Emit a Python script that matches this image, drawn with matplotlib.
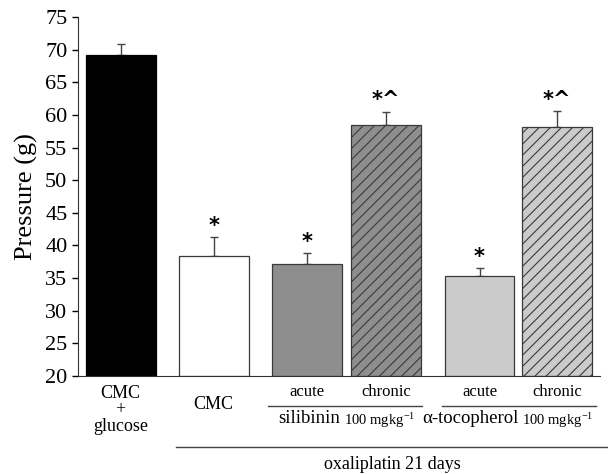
import numpy as np
import matplotlib.pyplot as plt
from matplotlib.transforms import blended_transform_factory

plt.rcParams['font.family'] = ['Liberation Serif', 'DejaVu Serif']
plt.rcParams['mathtext.fontset'] = 'stix'
plt.rcParams['hatch.linewidth'] = 0.8

# values
groups = ["CMC\n+\nglucose", "CMC", "acute", "chronic", "acute", "chronic"]
means = [69.2, 38.4, 37.2, 58.4, 35.3, 58.2]
upper_err = [1.6, 2.9, 1.6, 2.1, 1.2, 2.4]
marks = ["", "*", "*", "*^", "*", "*^"]
treatments = ["silibinin", "\u03b1-tocopherol"]
dose = r"100 mgkg$^{\mathregular{-1}}$"

# bar layout
pos = np.array([0, 1, 2.005, 2.85, 3.855, 4.69])
fills = ["#000000", "#ffffff", "#8e8e8e", "#8e8e8e", "#cbcbcb", "#cbcbcb"]
hatches = [None, None, None, "///", None, "///"]

fig = plt.figure(figsize=(6.08, 4.74), dpi=100)
ax = fig.add_axes([0.128, 0.207, 0.859, 0.757])

for i in range(len(means)):
    ax.bar(pos[i], means[i] - 20, bottom=20, width=0.75, color=fills[i],
           edgecolor="#3a3a3a" if i else "black", linewidth=0.9,
           hatch=hatches[i], zorder=2)
ax.errorbar(pos, means, yerr=[np.zeros(len(means)), upper_err], fmt="none",
            ecolor="#444444", elinewidth=1, capsize=3, capthick=1, zorder=1)
for i in range(len(means)):
    if marks[i]:
        ax.text(pos[i], means[i] + upper_err[i] + 0.2, marks[i], ha="center", va="bottom",
                fontsize=15, fontweight="bold", family="DejaVu Sans")

ax.set_ylim(20, 75)
ax.set_xlim(-0.46, 5.15)
ax.set_yticks(np.arange(20, 80, 5))
ax.tick_params(axis="y", labelsize=16, direction="out", length=4.5, width=1, pad=3)
ax.set_xticks([])
ax.set_ylabel("Pressure (g)", fontsize=19, labelpad=5)
for s in ["top", "right"]:
    ax.spines[s].set_visible(False)
ax.spines["left"].set_color("#333333")
ax.spines["bottom"].set_color("#333333")

# labels under the axis
tr = blended_transform_factory(ax.transData, ax.transAxes)
def fy(py):
    return (376 - py) / 359.0

ax.text(pos[0], fy(385), groups[0], transform=tr, ha="center", va="top",
        fontsize=13, linespacing=0.95)
ax.text(pos[1], fy(405), groups[1], transform=tr, ha="center", va="center", fontsize=13)
for i in range(2, 6):
    ax.text(pos[i], fy(392), groups[i], transform=tr, ha="center", va="center", fontsize=12)

for (x0, x1), split, name in zip([(1.58, 3.24), (3.45, 5.11)], [2.36, 4.27], treatments):
    ax.plot([x0, x1], [fy(406), fy(406)], transform=tr, color="#444444", lw=1, clip_on=False)
    ax.text(split, fy(419), name, transform=tr, ha="right", va="center", fontsize=13.5)
    ax.text(split + 0.04, fy(420), dose, transform=tr, ha="left", va="center", fontsize=10.5)

ax.plot([0.59, 5.24], [fy(447), fy(447)], transform=tr, color="#444444", lw=1, clip_on=False)
ax.text(2.92, fy(465), "oxaliplatin 21 days", transform=tr, ha="center", va="center", fontsize=13)

fig.savefig("out.png", dpi=100)
